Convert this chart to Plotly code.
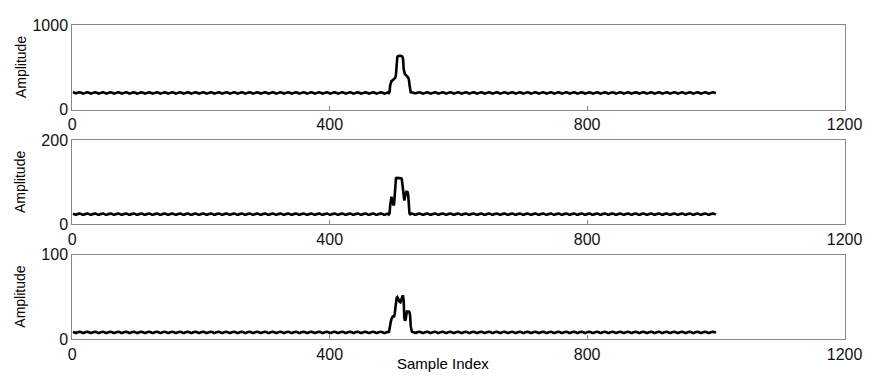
import plotly.graph_objects as go

# ---- data ----
n_samples = 1000
peak_start = 492

baseline_levels = [200, 24, 8]          # baseline amplitude of each panel
ripple_sizes = [8, 1.8, 0.9]            # half height of the small ripple
ripple_pattern = [1.0, 0.9, 0.6, 0.1, -0.5, -1.0, -0.5, 0.1, 0.6, 0.9, 1.0, 1.0]

peak1 = [200, 210, 290, 330, 340, 345, 350, 355, 360, 370, 380, 420, 560, 620, 635,
         640, 640, 640, 640, 640, 635, 625, 600, 480, 430, 420, 415, 410, 400, 390,
         380, 360, 300, 220, 200]
peak2 = [24, 26, 45, 62, 66, 60, 52, 46, 48, 70, 105, 110, 111, 111, 111, 111, 111,
         111, 111, 110, 108, 95, 70, 60, 57, 65, 76, 78, 78, 77, 70, 45, 26, 24]
peak3 = [8, 14, 20, 21, 24, 26, 27, 27, 27, 30, 38, 46, 49, 50, 49, 47, 45, 44, 44,
         46, 50, 51, 51, 45, 25, 22, 24, 30, 33, 33, 33, 33, 32, 28, 15, 9, 8]
peaks = [peak1, peak2, peak3]

y_maxes = [1000, 200, 100]
x_ticks = [0, 400, 800, 1200]
y_title = "Amplitude"
x_title = "Sample Index"

# ---- build series ----
samples = list(range(1, n_samples + 1))
series = []
for base, rs, pk in zip(baseline_levels, ripple_sizes, peaks):
    vals = []
    for s in samples:
        if peak_start <= s < peak_start + len(pk):
            vals.append(pk[s - peak_start])
        else:
            vals.append(base + rs * ripple_pattern[s % len(ripple_pattern)])
    series.append(vals)

W, H = 884, 377
x_dom = [70 / W, 862 / W]
panels_px = [(18, 106.7), (138.7, 226.7), (258.5, 347)]

fig = go.Figure()
font = "Liberation Sans, Arial, sans-serif"
layout = dict(
    width=W, height=H, margin=dict(l=0, r=0, t=0, b=0),
    paper_bgcolor="white", plot_bgcolor="white", showlegend=False,
    font=dict(family=font, color="black"),
)
annotations = []
for i, (vals, ymax, (top, bot)) in enumerate(zip(series, y_maxes, panels_px)):
    k = "" if i == 0 else str(i + 1)
    fig.add_trace(go.Scatter(x=samples, y=vals, mode="lines",
                             line=dict(color="black", width=2.6),
                             xaxis="x" + k, yaxis="y" + k, hoverinfo="skip"))
    ydom = [1 - bot / H, 1 - top / H]
    layout["xaxis" + k] = dict(
        domain=x_dom, range=[0, 1200], tickvals=x_ticks,
        ticktext=[str(v) for v in x_ticks], ticks="inside", ticklen=4,
        tickcolor="#888", showline=True, linecolor="#888", linewidth=1,
        mirror=True, showgrid=False, zeroline=False, anchor="y" + k,
        tickfont=dict(size=16, family=font, color="#111"),
    )
    layout["yaxis" + k] = dict(
        domain=ydom, range=[0, ymax], tickvals=[0, ymax],
        ticktext=["0", str(ymax)], ticks="inside", ticklen=4,
        tickcolor="#888", showline=True, linecolor="#888", linewidth=1,
        mirror=True, showgrid=False, zeroline=False, anchor="x" + k,
        tickfont=dict(size=16, family=font, color="#111"),
        ticklabelstandoff=0,
    )
    annotations.append(dict(
        text=y_title, textangle=-90, xref="paper", yref="paper",
        x=17 / W, y=sum(ydom) / 2, xanchor="center", yanchor="middle",
        showarrow=False, font=dict(size=14, family=font, color="black"),
    ))
annotations.append(dict(
    text=x_title, xref="paper", yref="paper", x=450 / W, y=1 - 361 / H,
    xanchor="center", yanchor="top", showarrow=False,
    font=dict(size=15, family=font, color="black"),
))
layout["annotations"] = annotations
fig.update_layout(**layout)
fig.write_html("out.html", config={"displayModeBar": False},
               post_script="document.body.style.margin='0';document.body.style.overflow='hidden';")
